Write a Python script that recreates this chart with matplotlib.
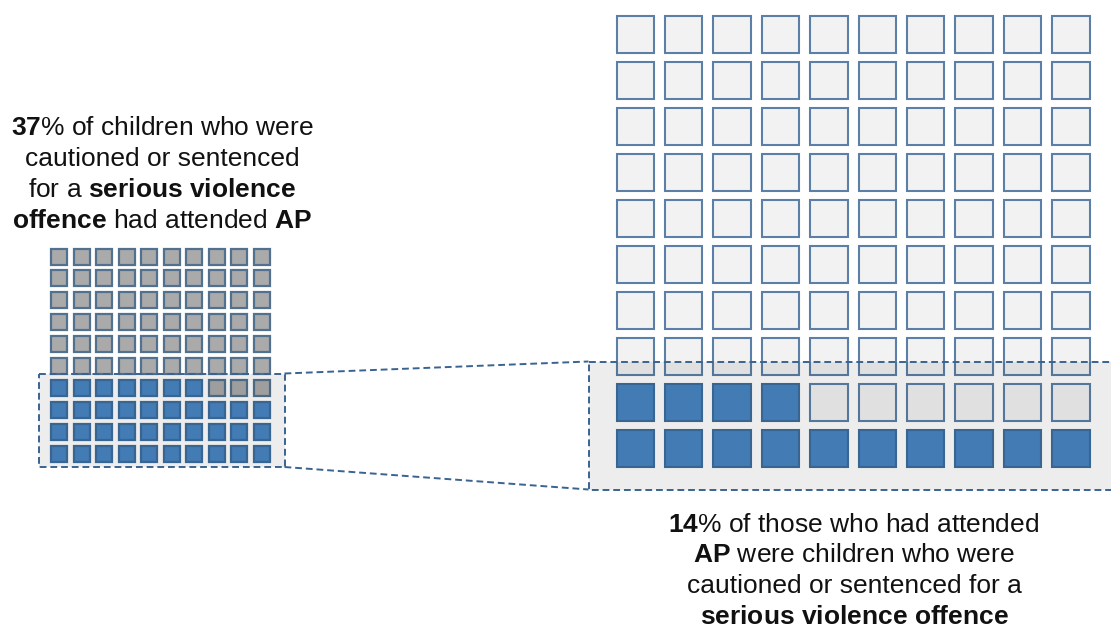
import matplotlib
matplotlib.use("Agg")
import matplotlib.pyplot as plt
from matplotlib.patches import Rectangle

# ---- data ----
grid_rows = 10
grid_cols = 10
small_pct = 37   # % of SV children who had attended AP
large_pct = 14   # % of AP attendees who were SV children

left_caption = [
    r"$\mathbf{37}$% of children who were",
    "cautioned or sentenced",
    r"for a $\mathbf{serious\ violence}$",
    r"$\mathbf{offence}$ had attended $\mathbf{AP}$",
]
right_caption = [
    r"$\mathbf{14}$% of those who had attended",
    r"$\mathbf{AP}$ were children who were",
    "cautioned or sentenced for a",
    r"$\mathbf{serious\ violence\ offence}$",
]

# ---- colours ----
BLUE = "#4985c2"
BLUE_EDGE = "#3e6d9f"
GREY = "#aaaaaa"
GREY_EDGE = "#52718f"
LIGHT = "#f2f2f2"
LIGHT_EDGE = "#5b7fa6"
DASH = "#3a6390"

plt.rcParams["mathtext.fontset"] = "custom"
plt.rcParams["mathtext.rm"] = "Liberation Sans"
plt.rcParams["mathtext.bf"] = "Liberation Sans:bold"
plt.rcParams["mathtext.it"] = "Liberation Sans:italic"
plt.rcParams["font.family"] = ["Liberation Sans", "DejaVu Sans"]

W, H = 1111, 627
fig = plt.figure(figsize=(W / 100, H / 100), dpi=100)
ax = fig.add_axes([0, 0, 1, 1])
ax.set_xlim(0, W)
ax.set_ylim(H, 0)
ax.axis("off")


def waffle(x0, y0, pitch_x, pitch_y, size, pct, on_face, on_edge, off_face, off_edge, lw):
    n = 0
    for r in range(grid_rows - 1, -1, -1):
        for c in range(grid_cols):
            filled = n < pct
            n += 1
            ax.add_patch(Rectangle((x0 + c * pitch_x, y0 + r * pitch_y), size, size,
                                   facecolor=on_face if filled else off_face,
                                   edgecolor=on_edge if filled else off_edge,
                                   linewidth=lw, zorder=2))


# small waffle
waffle(51, 248.5, 22.5, 21.9, 16, small_pct, BLUE, BLUE_EDGE, GREY, GREY_EDGE, 1.6)
# large waffle
waffle(616.5, 15.5, 48.4, 46.0, 37.5, large_pct, BLUE, BLUE_EDGE, LIGHT, LIGHT_EDGE, 1.5)

# zoom highlight rectangles (translucent overlay)
dash_kw = dict(color=DASH, linewidth=1.4, linestyle=(0, (3.5, 2.0)), zorder=4)
s_l, s_t, s_r, s_b = 38.5, 373.5, 284.5, 467.0
l_l, l_t, l_r, l_b = 588.5, 361.5, 1125, 489.5
for (xl, yt, xr, yb) in [(s_l, s_t, s_r, s_b), (l_l, l_t, l_r, l_b)]:
    ax.add_patch(Rectangle((xl, yt), xr - xl, yb - yt, facecolor="black", alpha=0.07,
                           edgecolor="none", zorder=3))
    ax.plot([xl, xr, xr, xl, xl], [yt, yt, yb, yb, yt], **dash_kw)
# connectors
ax.plot([s_r, l_l], [s_t, l_t], **dash_kw)
ax.plot([s_r, l_l], [s_b, l_b], **dash_kw)

# ---- captions ----
FS = 19
for i, s in enumerate(left_caption):
    ax.text(162, 135 + i * 31, s, fontsize=FS, ha="center", va="baseline",
            color="#111111", zorder=5)
for i, s in enumerate(right_caption):
    ax.text(854, 532 + i * 30.5, s, fontsize=FS, ha="center", va="baseline",
            color="#111111", zorder=5)

fig.savefig("out.png", dpi=100)
